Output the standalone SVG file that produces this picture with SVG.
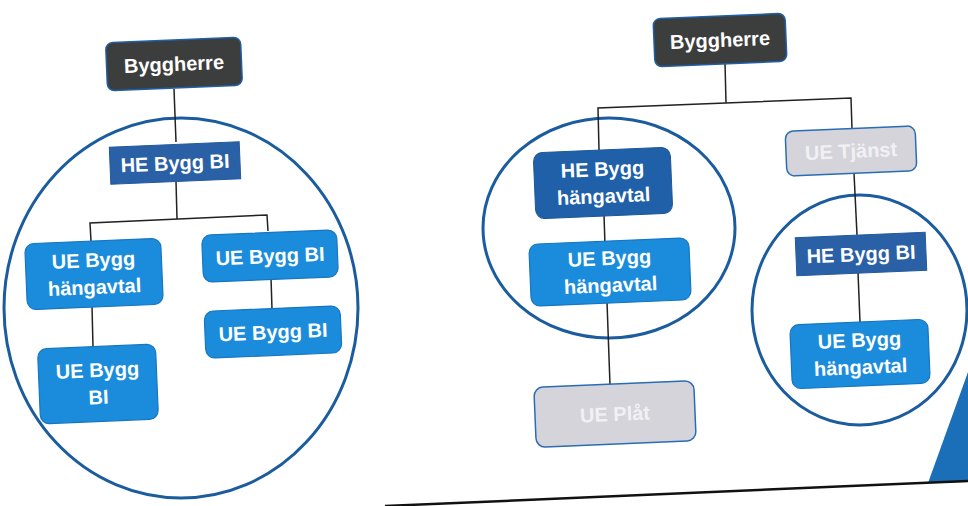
<svg xmlns="http://www.w3.org/2000/svg" width="968" height="506" viewBox="0 0 968 506">
<style>
.t{font-family:"Liberation Sans","Noto Sans",Arial,sans-serif;font-weight:bold;font-size:20px;fill:#ffffff;text-anchor:middle}
.tg{font-family:"Liberation Sans","Noto Sans",Arial,sans-serif;font-weight:bold;font-size:20px;fill:#f1f1f4;text-anchor:middle}
.dark{fill:#3b3e3d;stroke:#1f5fa8;stroke-width:1.5}
.he{fill:#2a60a6;stroke:#245a9c;stroke-width:1}
.hed{fill:#1f60a8;stroke:#1b579a;stroke-width:1}
.ue{fill:#1b8cdc;stroke:#1676c2;stroke-width:1.2}
.gr{fill:#d4d4da;stroke:#2a6cb5;stroke-width:1.5}
.circ{fill:none;stroke:#1b5c9e;stroke-width:3}
.con{fill:none;stroke:#222222;stroke-width:1.5}
</style>
<rect x="0" y="0" width="968" height="506" fill="#ffffff"/>
<g id="slide-decor">
<polygon points="928,483 968,372 968,482" fill="#1a6fb8"/>
<line x1="385" y1="506" x2="968" y2="481" stroke="#111111" stroke-width="2.5"/>
</g>
<g id="groups">
<ellipse class="circ" cx="181" cy="308" rx="177" ry="190"/>
<ellipse class="circ" cx="609" cy="228" rx="126" ry="110"/>
<ellipse class="circ" cx="859.5" cy="310" rx="107.5" ry="115"/>
</g>
<g id="connectors">
<line class="con" x1="174" y1="89" x2="176" y2="142"/>
<line class="con" x1="176" y1="181" x2="177" y2="219"/>
<polyline class="con" points="91,241 90,223 267,215 268,231"/>
<line class="con" x1="92" y1="306" x2="93" y2="347"/>
<line class="con" x1="271" y1="278" x2="272" y2="309"/>
<line class="con" x1="725" y1="63" x2="726" y2="103"/>
<polyline class="con" points="599,150 598,108 851,98 852,129"/>
<line class="con" x1="604" y1="215" x2="605" y2="245"/>
<line class="con" x1="607" y1="302" x2="610" y2="385"/>
<line class="con" x1="854" y1="173" x2="857" y2="235"/>
<line class="con" x1="858" y1="272" x2="860" y2="322"/>
</g>
<g id="byggherre-left" transform="rotate(-2.4 174 64)">
<rect class="dark" x="106.5" y="40" width="135" height="48" rx="7"/>
<text class="t" x="174" y="71">Byggherre</text>
</g>
<g id="he-bygg-bi-left" transform="rotate(-2.4 175 163)">
<rect class="he" x="110" y="144.5" width="130" height="37"/>
<text class="t" x="175" y="170">HE Bygg BI</text>
</g>
<g id="ue-bygg-hangavtal-left" transform="rotate(-2.4 94 274)">
<rect class="ue" x="26" y="241" width="136" height="66" rx="9"/>
<text class="t" x="94" y="267">UE Bygg</text>
<text class="t" x="94" y="294">hängavtal</text>
</g>
<g id="ue-bygg-bi-left-bottom" transform="rotate(-2.4 98 384)">
<rect class="ue" x="39" y="346.5" width="118" height="75" rx="9"/>
<text class="t" x="98" y="377">UE Bygg</text>
<text class="t" x="98" y="404">BI</text>
</g>
<g id="ue-bygg-bi-right-top" transform="rotate(-2.4 270 256)">
<rect class="ue" x="202.5" y="232.5" width="135" height="47" rx="9"/>
<text class="t" x="270" y="263">UE Bygg BI</text>
</g>
<g id="ue-bygg-bi-right-bottom" transform="rotate(-2.4 273 332)">
<rect class="ue" x="205" y="308.5" width="136" height="47" rx="9"/>
<text class="t" x="273" y="339">UE Bygg BI</text>
</g>
<g id="byggherre-right" transform="rotate(-2.4 720 40)">
<rect class="dark" x="654" y="16" width="132" height="48" rx="7"/>
<text class="t" x="720" y="47">Byggherre</text>
</g>
<g id="he-bygg-hangavtal" transform="rotate(-2.4 603 183)">
<rect class="hed" x="534.5" y="150" width="137" height="66" rx="9"/>
<text class="t" x="603" y="176">HE Bygg</text>
<text class="t" x="603" y="203">hängavtal</text>
</g>
<g id="ue-bygg-hangavtal-mid" transform="rotate(-2.4 610 272)">
<rect class="ue" x="530" y="241" width="160" height="62" rx="9"/>
<text class="t" x="610" y="265">UE Bygg</text>
<text class="t" x="610" y="292">hängavtal</text>
</g>
<g id="ue-plat" transform="rotate(-2.4 615 414)">
<rect class="gr" x="535" y="384" width="160" height="60" rx="9"/>
<text class="tg" x="615" y="421">UE Plåt</text>
</g>
<g id="ue-tjanst" transform="rotate(-2.4 851 151)">
<rect class="gr" x="786" y="128.5" width="130" height="45" rx="8"/>
<text class="tg" x="851" y="158">UE Tjänst</text>
</g>
<g id="he-bygg-bi-right" transform="rotate(-2.4 861 254)">
<rect class="he" x="796" y="235" width="130" height="38"/>
<text class="t" x="861" y="261">HE Bygg BI</text>
</g>
<g id="ue-bygg-hangavtal-right" transform="rotate(-2.4 860 354)">
<rect class="ue" x="791" y="322" width="138" height="64" rx="9"/>
<text class="t" x="860" y="347">UE Bygg</text>
<text class="t" x="860" y="374">hängavtal</text>
</g>
</svg>
